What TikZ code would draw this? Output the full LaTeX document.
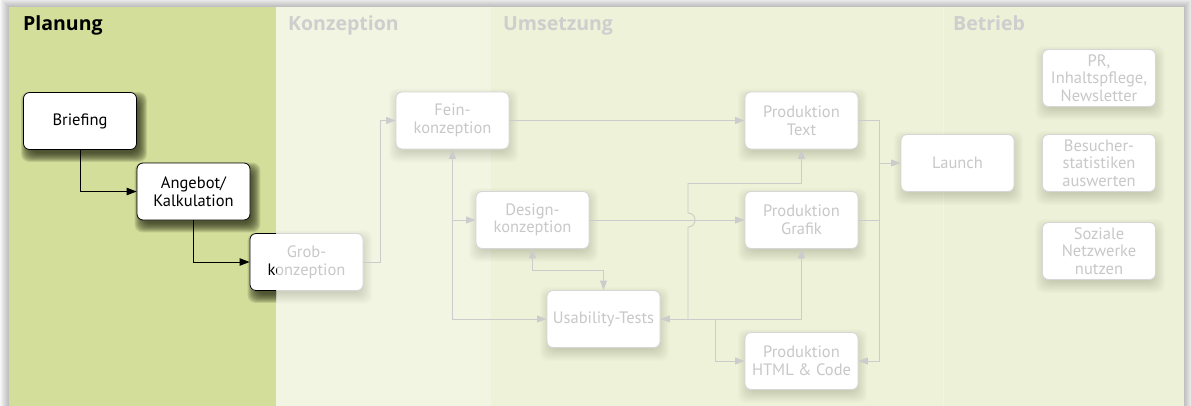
\documentclass[tikz,border=0pt]{standalone}
\usepackage{fontspec}
\setmainfont{PT Sans}
\newfontfamily\headfamily{Open Sans}
\usetikzlibrary{arrows.meta, calc}

\definecolor{planfill}{RGB}{211,222,154}
\definecolor{konzfill}{RGB}{242,245,226}
\definecolor{umsfill}{RGB}{238,242,216}
\definecolor{betrfill}{RGB}{237,241,215}
\definecolor{headgrey}{RGB}{206,206,206}
\definecolor{boxline}{RGB}{214,214,214}
\definecolor{boxtext}{RGB}{200,200,200}
\definecolor{linkgrey}{RGB}{204,204,204}
\definecolor{darkshade}{RGB}{40,44,20}

\newcommand{\boxfont}{\fontsize{16.5}{17.6}\selectfont}
\newcommand{\headfont}{\headfamily\fontsize{19.5}{21}\selectfont\bfseries}

\pgfdeclarelayer{panels}
\pgfdeclarelayer{shades}
\pgfsetlayers{panels,shades,main}

% soft drop shadow behind a box: node, x offset, y offset, colour, opacity per ring, ring sizes
\newcommand{\softshade}[6]{%
  \foreach \s in {#6}{%
    \fill[#4, opacity=#5, rounded corners=8pt]
      ($(#1.north west)+(#2-\s,#3-\s)$) rectangle ($(#1.south east)+(#2+\s,#3+\s)$);
  }}
\newcommand{\planshade}[1]{\softshade{#1}{4}{6}{darkshade}{0.13}{-3,-2,...,6}}
\newcommand{\greyshade}[1]{\softshade{#1}{1}{5}{black}{0.011}{-3,-2,...,8}}

\tikzset{
  basebox/.style={rounded corners=6pt, fill=white, minimum width=113pt,
    minimum height=57pt, inner sep=0pt, align=center, font=\boxfont},
  planbox/.style={basebox, draw=black, line width=0.8pt, text=black},
  greybox/.style={basebox, draw=boxline, line width=0.9pt, text=boxtext},
  planlink/.style={draw=black, line width=0.9pt,
    -{Triangle[length=10pt, width=7.5pt]}},
  greylink/.style={draw=linkgrey, line width=0.9pt,
    -{Triangle[length=9.5pt, width=7pt]}},
  greylinkboth/.style={draw=linkgrey, line width=0.9pt,
    {Triangle[length=9.5pt, width=7pt]}-{Triangle[length=9.5pt, width=7pt]}},
  greyline/.style={draw=linkgrey, line width=0.9pt},
  heading/.style={anchor=base west, inner sep=0pt, font=\headfont},
}

\begin{document}
\begin{tikzpicture}[x=1pt, y=-1pt]
\useasboundingbox (0,0) rectangle (1191,405);

\begin{pgfonlayer}{panels}
  % soft shadow around the sheet
  \foreach \i in {1,...,9}
    \fill[black, opacity=0.03] (9-\i,7-\i) rectangle (1184+\i,420);
  % phase columns
  \fill[planfill] (9,7) rectangle (276,420);
  \fill[konzfill] (276,7) rectangle (491,420);
  \fill[umsfill]  (491,7) rectangle (943,420);
  \fill[betrfill] (943,7) rectangle (1184,420);
  \draw[white, opacity=0.35, line width=1pt] (943.5,7) -- (943.5,420);
\end{pgfonlayer}

% phase headings
\node[heading, text=black]    (hplan) at (23,30)  {Planung};
\node[heading, text=headgrey] (hkonz) at (288,30) {Konzeption};
\node[heading, text=headgrey] (hums)  at (503,30) {Umsetzung};
\node[heading, text=headgrey] (hbetr) at (953,30) {Betrieb};

% planning steps
\node[planbox] (brief)   at (80,121)    {Briefing};
\node[planbox] (angebot) at (193.5,191.5) {Angebot/\\Kalkulation};

% concept and production steps
\node[greybox] (grob)   at (306.5,262) {Grob-\\konzeption};
\begin{scope}
  \clip (9,7) rectangle (276,420);
  \node[planbox] (grobplan) at (306.5,262) {Grob-\\konzeption};
\end{scope}
\node[greybox] (fein)   at (452.5,120.5) {Fein-\\konzeption};
\node[greybox] (design) at (532.5,220)   {Design-\\konzeption};
\node[greybox] (usab)   at (603.5,319)   {Usability-Tests};
\node[greybox] (ptext)  at (801.5,120.5) {Produktion\\Text};
\node[greybox] (pgraf)  at (801.5,220)   {Produktion\\Grafik};
\node[greybox] (phtml)  at (801.5,361)   {Produktion\\HTML \& Code};
\node[greybox] (launch) at (957.5,163)   {Launch};

% operation tasks
\node[greybox] (pr)       at (1099,78)  {PR,\\Inhaltspflege,\\Newsletter};
\node[greybox] (besucher) at (1099,163) {Besucher-\\statistiken\\auswerten};
\node[greybox] (sozial)   at (1099,251) {Soziale\\Netzwerke\\nutzen};

% drop shadows
\begin{pgfonlayer}{shades}
  \planshade{brief}
  \planshade{angebot}
  \begin{scope}
    \clip (9,7) rectangle (276,420);
    \planshade{grob}
  \end{scope}
  \begin{scope}
    \clip (276,7) rectangle (1184,420);
    \greyshade{grob}
  \end{scope}
  \foreach \n in {fein,design,usab,ptext,pgraf,phtml,launch,pr,besucher,sozial}
    {\greyshade{\n}}
\end{pgfonlayer}

% junction points
\coordinate (jtext) at (688,319);
\coordinate (jhtml) at (715.7,319);
\coordinate (jlaunch) at (879,163);

% planning flow
\draw[planlink] (brief.south) |- (angebot.west);
\draw[planlink] (angebot.south) |- (grob.west);

% concept flow
\draw[greylink] (grob.east) -- ++(16.5,0) |- (fein.west);
\draw[greylink] (fein.east) -- (ptext.west);
\draw[greylinkboth] (fein.south) |- (usab.west);
\draw[greylink] (fein.south |- design.west) -- (design.west);
\draw[greylinkboth] (design.south) -- ++(0,21) -| (usab.north);
\draw[greylink] (design.east) -- (pgraf.west);

% tests and production
\draw[greylinkboth] (usab.east) -| (pgraf.south);
\draw[greylink] (jtext) -- (688,227)
  to[out=0, in=0, looseness=1.7] (688,213) -- (688,183.5) -| (ptext.south);
\draw[greylink] (jhtml) |- (phtml.west);

% production to launch
\draw[greylink] (ptext.east) -| (jlaunch |- phtml.east) -- (phtml.east);
\draw[greyline] (pgraf.east) -- (pgraf.east -| jlaunch);
\draw[greylink] (jlaunch) -- (launch.west);
\end{tikzpicture}
\end{document}
